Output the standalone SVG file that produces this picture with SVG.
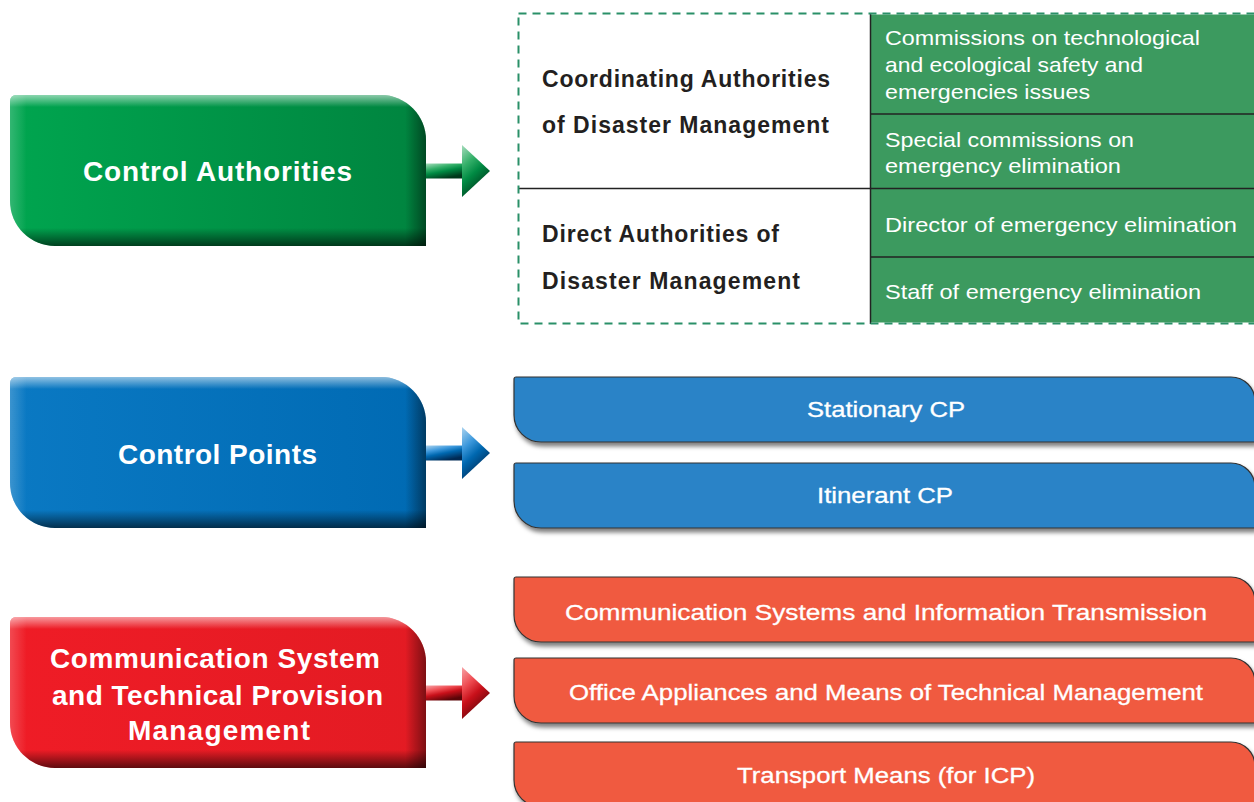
<svg xmlns="http://www.w3.org/2000/svg" width="1254" height="802" viewBox="0 0 1254 802">
<defs>
<style>
.main{font-family:"Liberation Sans",Arial,sans-serif;font-weight:700;font-size:28px;fill:#fff}
.cell{font-family:"Liberation Sans",Arial,sans-serif;font-size:21px;fill:#fff}
.lbl{font-family:"Liberation Sans",Arial,sans-serif;font-weight:700;font-size:23px;fill:#231f20}
.sub{font-family:"Liberation Sans",Arial,sans-serif;font-size:22.5px;fill:#fff;stroke:#fff;stroke-width:0.3}
.subbox{stroke:#333;stroke-width:1.2}
.sep{stroke:#222;stroke-width:1.5}
</style>
<path id="mainShape" d="M6,0 H371 A45,45 0 0 1 416,45 V151 H45 A45,45 0 0 1 0,106 V6 A6,6 0 0 1 6,0 Z"/>
<path id="subShape" d="M2,0 H717 A24,24 0 0 1 741,24 V65 H27 A27,27 0 0 1 0,38 V2 A2,2 0 0 1 2,0 Z"/>
<linearGradient id="gGreen" x1="0" y1="0" x2="1" y2="0"><stop offset="0" stop-color="#00a54f"/><stop offset="1" stop-color="#00843f"/></linearGradient>
<linearGradient id="gBlue" x1="0" y1="0" x2="1" y2="0"><stop offset="0" stop-color="#0a79c3"/><stop offset="1" stop-color="#006ab3"/></linearGradient>
<linearGradient id="gRed" x1="0" y1="0" x2="1" y2="0"><stop offset="0" stop-color="#ef1c26"/><stop offset="1" stop-color="#e31b23"/></linearGradient>
<linearGradient id="vshade" x1="0" y1="0" x2="0" y2="1"><stop offset="0" stop-color="#fff" stop-opacity="0.55"/><stop offset="0.08" stop-color="#fff" stop-opacity="0"/><stop offset="0.88" stop-color="#000" stop-opacity="0"/><stop offset="1" stop-color="#000" stop-opacity="0.6"/></linearGradient>
<linearGradient id="hshade" x1="0" y1="0" x2="1" y2="0"><stop offset="0" stop-color="#fff" stop-opacity="0.2"/><stop offset="0.04" stop-color="#fff" stop-opacity="0"/><stop offset="0.95" stop-color="#000" stop-opacity="0"/><stop offset="1" stop-color="#000" stop-opacity="0.45"/></linearGradient>
<linearGradient id="aGreen" x1="0" y1="0" x2="0.5" y2="1"><stop offset="0" stop-color="#a6dcbc"/><stop offset="0.35" stop-color="#35b06a"/><stop offset="0.6" stop-color="#008a43"/><stop offset="1" stop-color="#00381b"/></linearGradient>
<linearGradient id="aBlue" x1="0" y1="0" x2="0.5" y2="1"><stop offset="0" stop-color="#acd4ef"/><stop offset="0.35" stop-color="#3c98dc"/><stop offset="0.6" stop-color="#0068b0"/><stop offset="1" stop-color="#002a55"/></linearGradient>
<linearGradient id="aRed" x1="0" y1="0" x2="0.5" y2="1"><stop offset="0" stop-color="#f7a4a7"/><stop offset="0.35" stop-color="#ee4a50"/><stop offset="0.6" stop-color="#c8101a"/><stop offset="1" stop-color="#5a0508"/></linearGradient>
<filter id="shadow" x="-5%" y="-20%" width="110%" height="150%"><feDropShadow dx="2" dy="4" stdDeviation="2" flood-color="#000" flood-opacity="0.5"/></filter>
</defs>
<rect width="1254" height="802" fill="#fff"/>

<g id="control-authorities">
<g transform="translate(10,95)"><use href="#mainShape" fill="url(#gGreen)"/><use href="#mainShape" fill="url(#hshade)"/><use href="#mainShape" fill="url(#vshade)"/></g>
<text class="main" x="83" y="181" textLength="269" lengthAdjust="spacing">Control Authorities</text>
</g>

<g id="control-points">
<g transform="translate(10,377)"><use href="#mainShape" fill="url(#gBlue)"/><use href="#mainShape" fill="url(#hshade)"/><use href="#mainShape" fill="url(#vshade)"/></g>
<text class="main" x="118" y="464" textLength="199" lengthAdjust="spacing">Control Points</text>
</g>

<g id="communication-management">
<g transform="translate(10,617)"><use href="#mainShape" fill="url(#gRed)"/><use href="#mainShape" fill="url(#hshade)"/><use href="#mainShape" fill="url(#vshade)"/></g>
<text class="main" x="50" y="668" textLength="330" lengthAdjust="spacing">Communication System</text>
<text class="main" x="52" y="705" textLength="331" lengthAdjust="spacing">and Technical Provision</text>
<text class="main" x="128" y="740" textLength="182" lengthAdjust="spacing">Management</text>
</g>

<g id="authorities-table">
<rect x="870" y="14.5" width="390" height="308" fill="#3c9a5f"/>
<line class="sep" x1="870.5" y1="13" x2="870.5" y2="324"/>
<line class="sep" x1="518" y1="188.5" x2="870" y2="188.5"/>
<line class="sep" x1="870" y1="114" x2="1254" y2="114" stroke="#24382b"/>
<line class="sep" x1="870" y1="188.5" x2="1254" y2="188.5" stroke="#24382b"/>
<line class="sep" x1="870" y1="257" x2="1254" y2="257" stroke="#24382b"/>
<rect x="518.5" y="13.5" width="760" height="310" fill="none" stroke="#2a9068" stroke-width="2" stroke-dasharray="8 6"/>
<text class="lbl" x="542" y="87" textLength="288" lengthAdjust="spacing">Coordinating Authorities</text>
<text class="lbl" x="542" y="133" textLength="287" lengthAdjust="spacing">of Disaster Management</text>
<text class="lbl" x="542" y="242" textLength="237" lengthAdjust="spacing">Direct Authorities of</text>
<text class="lbl" x="542" y="289" textLength="258" lengthAdjust="spacing">Disaster Management</text>
<text class="cell" x="885" y="45" textLength="315" lengthAdjust="spacingAndGlyphs">Commissions on technological</text>
<text class="cell" x="885" y="72" textLength="258" lengthAdjust="spacingAndGlyphs">and ecological safety and</text>
<text class="cell" x="885" y="99" textLength="205" lengthAdjust="spacingAndGlyphs">emergencies issues</text>
<text class="cell" x="885" y="147" textLength="249" lengthAdjust="spacingAndGlyphs">Special commissions on</text>
<text class="cell" x="885" y="173" textLength="236" lengthAdjust="spacingAndGlyphs">emergency elimination</text>
<text class="cell" x="885" y="232" textLength="352" lengthAdjust="spacingAndGlyphs">Director of emergency elimination</text>
<text class="cell" x="885" y="299" textLength="316" lengthAdjust="spacingAndGlyphs">Staff of emergency elimination</text>
</g>

<g id="stationary-cp">
<use href="#subShape" x="514" y="377" fill="#2a83c7" class="subbox" filter="url(#shadow)"/>
<text class="sub" x="807" y="417" textLength="158" lengthAdjust="spacingAndGlyphs">Stationary CP</text>
</g>
<g id="itinerant-cp">
<use href="#subShape" x="514" y="463" fill="#2a83c7" class="subbox" filter="url(#shadow)"/>
<text class="sub" x="817" y="503" textLength="136" lengthAdjust="spacingAndGlyphs">Itinerant CP</text>
</g>
<g id="comm-systems">
<use href="#subShape" x="514" y="577" fill="#f05a40" class="subbox" filter="url(#shadow)"/>
<text class="sub" x="565" y="620" textLength="642" lengthAdjust="spacingAndGlyphs">Communication Systems and Information Transmission</text>
</g>
<g id="office-appliances">
<use href="#subShape" x="514" y="658" fill="#f05a40" class="subbox" filter="url(#shadow)"/>
<text class="sub" x="569" y="700" textLength="634" lengthAdjust="spacingAndGlyphs">Office Appliances and Means of Technical Management</text>
</g>
<g id="transport-means">
<use href="#subShape" x="514" y="742" fill="#f05a40" class="subbox" filter="url(#shadow)"/>
<text class="sub" x="737" y="783" textLength="298" lengthAdjust="spacingAndGlyphs">Transport Means (for ICP)</text>
</g>

<g id="connectors">
<g transform="translate(426,171)"><rect x="0" y="-7.5" width="37" height="15" fill="url(#aGreen)"/><polygon points="36,-26 64,0 36,26" fill="url(#aGreen)"/></g>
<g transform="translate(426,453)"><rect x="0" y="-7.5" width="37" height="15" fill="url(#aBlue)"/><polygon points="36,-26 64,0 36,26" fill="url(#aBlue)"/></g>
<g transform="translate(426,693)"><rect x="0" y="-7.5" width="37" height="15" fill="url(#aRed)"/><polygon points="36,-26 64,0 36,26" fill="url(#aRed)"/></g>
</g>
</svg>
